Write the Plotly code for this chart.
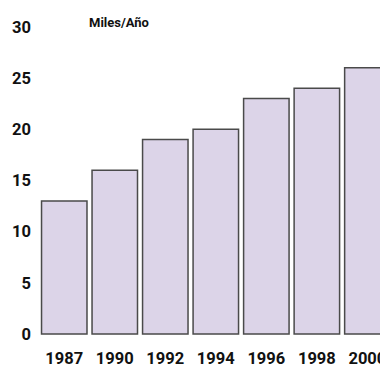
import plotly.graph_objects as go

# Annual totals, in thousands
years = ["1987", "1990", "1992", "1994", "1996", "1998", "2000"]
miles = [13, 16, 19, 20, 23, 24, 26]
y_ticks = [0, 5, 10, 15, 20, 25, 30]
unit_label = "Miles/Año"

FONT = "Roboto, 'Liberation Sans', Arial, sans-serif"

fig = go.Figure(
    go.Bar(
        x=years,
        y=miles,
        marker=dict(color="#dcd4e8", line=dict(color="#4a4a4a", width=1.5)),
        hoverinfo="x+y",
    )
)

fig.update_layout(
    width=380,
    height=367,
    margin=dict(l=39, r=0, t=14, b=30, autoexpand=False),
    paper_bgcolor="white",
    plot_bgcolor="white",
    bargap=0.1,
    showlegend=False,
    font=dict(family=FONT, color="#111111"),
    annotations=[
        dict(
            text=unit_label,
            xref="paper",
            yref="paper",
            x=0.14,
            y=1.0,
            xanchor="left",
            yanchor="middle",
            yshift=-8,
            showarrow=False,
            font=dict(family=FONT, size=13, color="#111111", weight="bold"),
        )
    ],
)

fig.update_xaxes(
    type="category",
    range=[-0.5, 6.25],
    automargin=False,
    showgrid=False,
    showline=False,
    zeroline=False,
    ticks="",
    ticklabelstandoff=9,
    tickfont=dict(family=FONT, size=16.5, color="#111111", weight="bold"),
)

fig.update_yaxes(
    range=[-0.293, 31.25],
    automargin=False,
    tickmode="array",
    tickvals=y_ticks,
    ticktext=[str(v) for v in y_ticks],
    showgrid=False,
    showline=False,
    zeroline=False,
    ticks="",
    ticklabelstandoff=7,
    tickfont=dict(family=FONT, size=16.5, color="#111111", weight="bold"),
)

fig.write_html("out.html")
